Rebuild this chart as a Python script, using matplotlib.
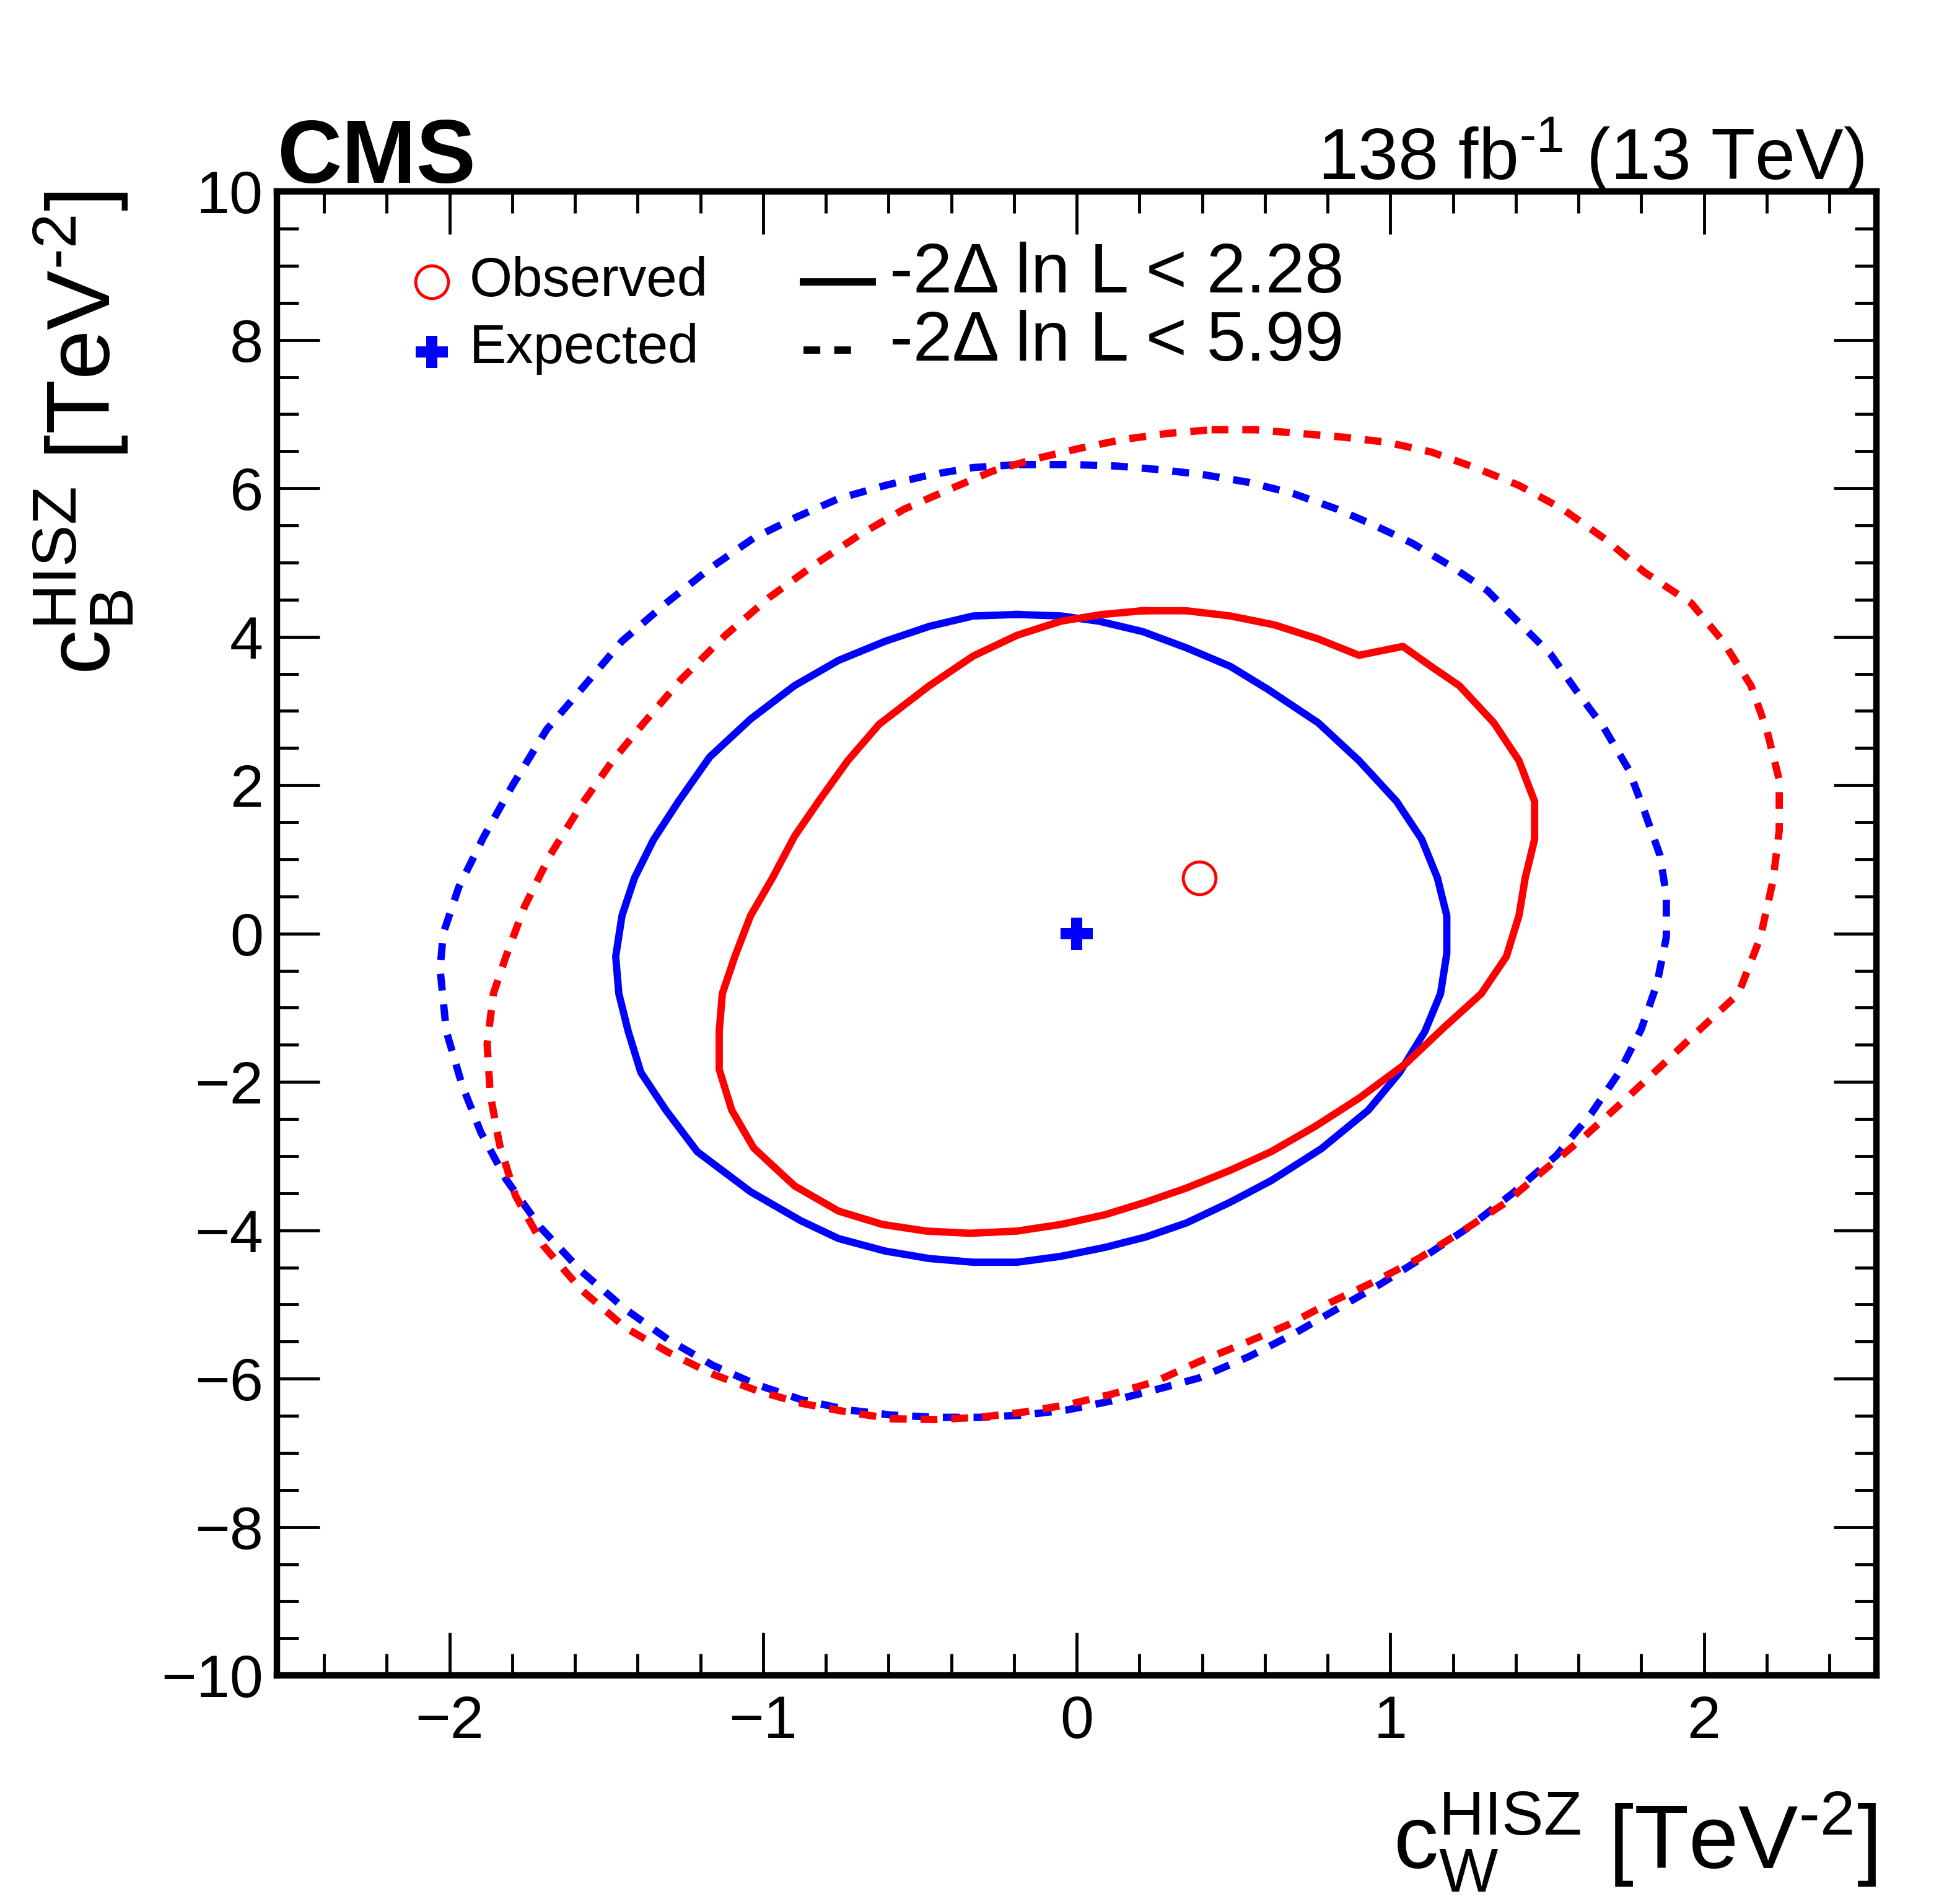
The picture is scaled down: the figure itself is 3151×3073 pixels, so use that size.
import numpy as np
import matplotlib
matplotlib.use('Agg')
from matplotlib import pyplot as plt
from matplotlib.ticker import MultipleLocator

plt.rcParams['font.family'] = ['Liberation Sans', 'DejaVu Sans']
plt.rcParams['mathtext.fontset'] = 'custom'
plt.rcParams['mathtext.rm'] = 'Liberation Sans'
plt.rcParams['mathtext.it'] = 'Liberation Sans'
plt.rcParams['mathtext.bf'] = 'Liberation Sans:bold'

# best fit points
obs_best = (0.39, 0.75)
exp_best = (0.0, 0.0)

# expected, -2dlnL < 2.28
exp68_x = [-0.19, -0.33, -0.47, -0.61, -0.76, -0.90, -1.04, -1.17, -1.27, -1.35, -1.41, -1.45, -1.47,
           -1.46, -1.43, -1.39, -1.31, -1.21, -1.04, -0.88, -0.76, -0.61, -0.47, -0.33, -0.19, -0.05,
           0.09, 0.22, 0.35, 0.49, 0.62, 0.78, 0.93, 1.03, 1.11, 1.16, 1.18, 1.18, 1.15, 1.10, 1.02,
           0.90, 0.77, 0.61, 0.49, 0.35, 0.21, 0.07, -0.05]
exp68_y = [4.30, 4.28, 4.14, 3.94, 3.68, 3.34, 2.89, 2.38, 1.78, 1.26, 0.75, 0.24, -0.31,
           -0.81, -1.32, -1.87, -2.38, -2.94, -3.48, -3.87, -4.11, -4.28, -4.38, -4.43, -4.43, -4.35,
           -4.23, -4.09, -3.90, -3.62, -3.33, -2.90, -2.38, -1.87, -1.32, -0.81, -0.27, 0.24, 0.75, 1.27, 1.78,
           2.33, 2.84, 3.29, 3.60, 3.85, 4.07, 4.21, 4.28]

# observed, -2dlnL < 2.28
obs68_x = [0.21, 0.35, 0.49, 0.63, 0.77, 0.90, 1.04, 1.13, 1.22, 1.33, 1.41, 1.46, 1.46, 1.43, 1.41,
           1.37, 1.29, 1.17, 1.05, 0.90, 0.76, 0.62, 0.49, 0.35, 0.22, 0.09, -0.05, -0.19, -0.34,
           -0.48, -0.62, -0.76, -0.90, -1.03, -1.10, -1.14, -1.14, -1.13, -1.09, -1.04, -0.97, -0.90,
           -0.82, -0.73, -0.63, -0.47, -0.33, -0.19, -0.05, 0.08]
obs68_y = [4.35, 4.35, 4.28, 4.16, 3.97, 3.75, 3.87, 3.60, 3.34, 2.84, 2.33, 1.78, 1.27, 0.75, 0.24,
           -0.31, -0.81, -1.27, -1.75, -2.22, -2.60, -2.94, -3.19, -3.43, -3.62, -3.79, -3.92, -4.01, -4.04,
           -4.01, -3.92, -3.74, -3.40, -2.89, -2.38, -1.83, -1.32, -0.81, -0.31, 0.24, 0.75, 1.31,
           1.80, 2.33, 2.82, 3.34, 3.74, 4.02, 4.21, 4.30]

# expected, -2dlnL < 5.99
exp95_x = [-0.19, -0.33, -0.47, -0.61, -0.76, -0.90, -1.03, -1.17, -1.31, -1.45, -1.57, -1.69, -1.80,
           -1.89, -1.97, -2.02, -2.03, -2.01, -1.96, -1.90, -1.82, -1.71, -1.58, -1.44, -1.30, -1.16,
           -1.02, -0.88, -0.73, -0.59, -0.45, -0.31, -0.17, -0.03, 0.11, 0.25, 0.39, 0.55, 0.69, 0.83,
           0.97, 1.11, 1.25, 1.39, 1.53, 1.64, 1.73, 1.80, 1.85, 1.88, 1.88, 1.86, 1.81, 1.76, 1.68,
           1.59, 1.51, 1.41, 1.31, 1.19, 1.07, 0.95, 0.83, 0.69, 0.55, 0.41, 0.27, 0.13, -0.01]
exp95_y = [6.32, 6.28, 6.18, 6.04, 5.86, 5.60, 5.33, 4.92, 4.45, 3.94, 3.34, 2.75, 1.99,
           1.31, 0.63, 0.00, -0.48, -1.32, -2.04, -2.68, -3.31, -3.96, -4.55, -5.06, -5.48, -5.82,
           -6.08, -6.28, -6.42, -6.49, -6.52, -6.52, -6.49, -6.42, -6.30, -6.15, -5.99, -5.70, -5.40, -5.06,
           -4.72, -4.35, -3.96, -3.50, -2.99, -2.43, -1.87, -1.29, -0.68, -0.05, 0.51, 1.05, 1.65, 2.21, 2.78,
           3.29, 3.77, 4.19, 4.62, 4.96, 5.26, 5.50, 5.72, 5.93, 6.08, 6.18, 6.25, 6.30, 6.32]

# observed, -2dlnL < 5.99
obs95_x = [0.43, 0.57, 0.71, 0.85, 0.99, 1.13, 1.27, 1.41, 1.55, 1.69, 1.81, 1.96, 2.06, 2.15, 2.20,
           2.24, 2.24, 2.22, 2.18, 2.11, 1.98, 1.86, 1.73, 1.61, 1.49, 1.37, 1.23, 1.09, 0.95, 0.81,
           0.67, 0.53, 0.39, 0.25, 0.11, -0.03, -0.17, -0.31, -0.45, -0.59, -0.73, -0.88, -1.02, -1.16,
           -1.30, -1.44, -1.58, -1.70, -1.79, -1.84, -1.87, -1.88, -1.86, -1.82, -1.76, -1.68, -1.58,
           -1.48, -1.38, -1.26, -1.12, -0.98, -0.84, -0.69, -0.55, -0.41, -0.27, -0.13, 0.01, 0.15, 0.29]
obs95_y = [6.79, 6.79, 6.74, 6.69, 6.62, 6.49, 6.28, 6.04, 5.72, 5.30, 4.87, 4.45, 3.94, 3.34, 2.75,
           2.07, 1.39, 0.71, -0.05, -0.81, -1.32, -1.80, -2.31, -2.77, -3.19, -3.62, -4.01, -4.38, -4.69, -4.97,
           -5.28, -5.53, -5.77, -6.04, -6.21, -6.35, -6.45, -6.52, -6.55, -6.54, -6.45, -6.33, -6.16, -5.94,
           -5.65, -5.31, -4.80, -4.21, -3.53, -2.85, -2.17, -1.49, -0.81, -0.31, 0.37, 1.05, 1.73,
           2.33, 2.84, 3.43, 4.02, 4.53, 4.96, 5.38, 5.72, 5.98, 6.23, 6.40, 6.54, 6.66, 6.74]


def closed(xs, ys):
    return np.append(xs, xs[0]), np.append(ys, ys[0])


fig = plt.figure(figsize=(31.51, 30.73), dpi=100)
ax = fig.add_axes([0.1419, 0.120, 0.8194, 0.7794])

lw = 8.5
dash = (2.3, 1.9)

x, y = closed(exp95_x, exp95_y)
ax.plot(x, y, color='blue', lw=lw, ls=(0, dash))
x, y = closed(obs95_x, obs95_y)
ax.plot(x, y, color='red', lw=lw, ls=(0, dash))
x, y = closed(exp68_x, exp68_y)
ax.plot(x, y, color='blue', lw=lw)
x, y = closed(obs68_x, obs68_y)
ax.plot(x, y, color='red', lw=lw)

ax.plot(obs_best[0], obs_best[1], 'o', ms=38, mfc='none', mec='red', mew=3.5)
ax.plot(exp_best[0], exp_best[1], 'P', ms=38, color='blue', mew=0)

ax.set_xlim(-2.55, 2.55)
ax.set_ylim(-10, 10)

ax.xaxis.set_major_locator(MultipleLocator(1))
ax.xaxis.set_minor_locator(MultipleLocator(0.2))
ax.yaxis.set_major_locator(MultipleLocator(2))
ax.yaxis.set_minor_locator(MultipleLocator(0.5))
ax.tick_params(which='both', direction='in', top=True, right=True, width=3.5, labelsize=70)
ax.tick_params(which='major', length=50)
ax.tick_params(which='minor', length=25)
ax.tick_params(axis='x', pad=22)
ax.tick_params(axis='y', pad=16)
for sp in ax.spines.values():
    sp.set_linewidth(7.5)

ax.set_xlabel(r'$\mathregular{c_{W}^{HISZ}\ [TeV^{\text{-}2}]}$', fontsize=104, loc='right', labelpad=46)
ax.set_ylabel(r'$\mathregular{c_{B}^{HISZ}\ [TeV^{\text{-}2}]}$', fontsize=104, loc='top', labelpad=30)

ax.text(0.0, 1.006, 'CMS', transform=ax.transAxes, fontsize=104, fontweight='bold', ha='left', va='baseline')
ax.text(0.992, 1.008, r'138 fb$^{\text{-}1}$ (13 TeV)', transform=ax.transAxes, fontsize=84, ha='right', va='baseline')

# legend drawn by hand, like the TLegend of the original
ax.plot([0.0969], [0.939], 'o', ms=38, mfc='none', mec='red', mew=3.5, transform=ax.transAxes)
ax.plot([0.0969], [0.892], 'P', ms=38, color='blue', mew=0, transform=ax.transAxes)
ax.text(0.1205, 0.939, 'Observed', transform=ax.transAxes, fontsize=64, va='center', ha='left')
ax.text(0.1205, 0.894, 'Expected', transform=ax.transAxes, fontsize=64, va='center', ha='left')
ax.plot([0.329, 0.372], [0.939, 0.939], color='black', lw=lw, transform=ax.transAxes)
ax.plot([0.329, 0.366], [0.893, 0.893], color='black', lw=lw, ls=(0, dash), transform=ax.transAxes)
ax.text(0.383, 0.944, u'-2\u0394 ln L < 2.28', transform=ax.transAxes, fontsize=82, va='center', ha='left')
ax.text(0.383, 0.898, u'-2\u0394 ln L < 5.99', transform=ax.transAxes, fontsize=82, va='center', ha='left')

plt.savefig('out.png', dpi=100)
